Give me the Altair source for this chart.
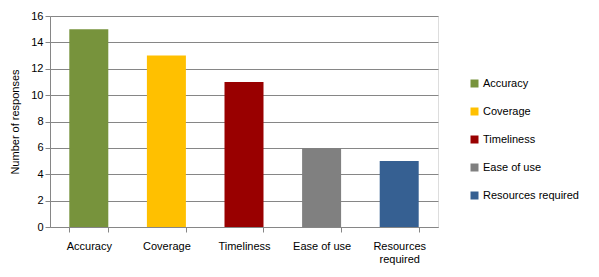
import altair as alt
import pandas as pd

categories = ["Accuracy", "Coverage", "Timeliness", "Ease of use", "Resources required"]
responses = [15, 13, 11, 6, 5]
colors = ["#77933C", "#FFC000", "#990000", "#808080", "#366092"]

df = pd.DataFrame({"category": categories, "responses": responses})

FONT = "Liberation Sans"

chart = alt.Chart(df).mark_bar(size=39).encode(
    x=alt.X("category:N", sort=categories, title=None,
            scale=alt.Scale(paddingInner=0.5, paddingOuter=0.25),
            axis=alt.Axis(labelAngle=0, tickBand="extent", domainColor="#868686",
                          tickColor="#868686", tickSize=5, labelPadding=8,
                          labelFont=FONT, labelFontSize=11, labelColor="#000000",
                          labelExpr="datum.label == 'Resources required' ? ['Resources', 'required'] : datum.label")),
    y=alt.Y("responses:Q", title="Number of responses",
            scale=alt.Scale(domain=[0, 16]),
            axis=alt.Axis(values=[0, 2, 4, 6, 8, 10, 12, 14, 16], gridColor="#868686",
                          domainColor="#868686", tickColor="#868686", tickSize=5,
                          labelFont=FONT, labelFontSize=11, labelColor="#000000",
                          titleFont=FONT, titleFontSize=11, titleFontWeight="normal",
                          titleColor="#000000", titlePadding=10)),
    color=alt.Color("category:N", sort=categories,
                    scale=alt.Scale(domain=categories, range=colors),
                    legend=alt.Legend(title=None, orient="none", legendX=419, legendY=62,
                                      symbolType="square", symbolSize=64, symbolStrokeWidth=0,
                                      rowPadding=16, labelFont=FONT, labelFontSize=11,
                                      labelColor="#000000", labelOffset=3)),
).properties(width=388, height=211)

chart = chart.properties(
    autosize=alt.AutoSizeParams(type="none"),
    padding={"left": 50, "top": 16, "right": 161, "bottom": 50},
).configure_view(stroke=None).configure(background="#ffffff")

chart.save("out.html", embed_options={"renderer": "svg", "actions": False})
